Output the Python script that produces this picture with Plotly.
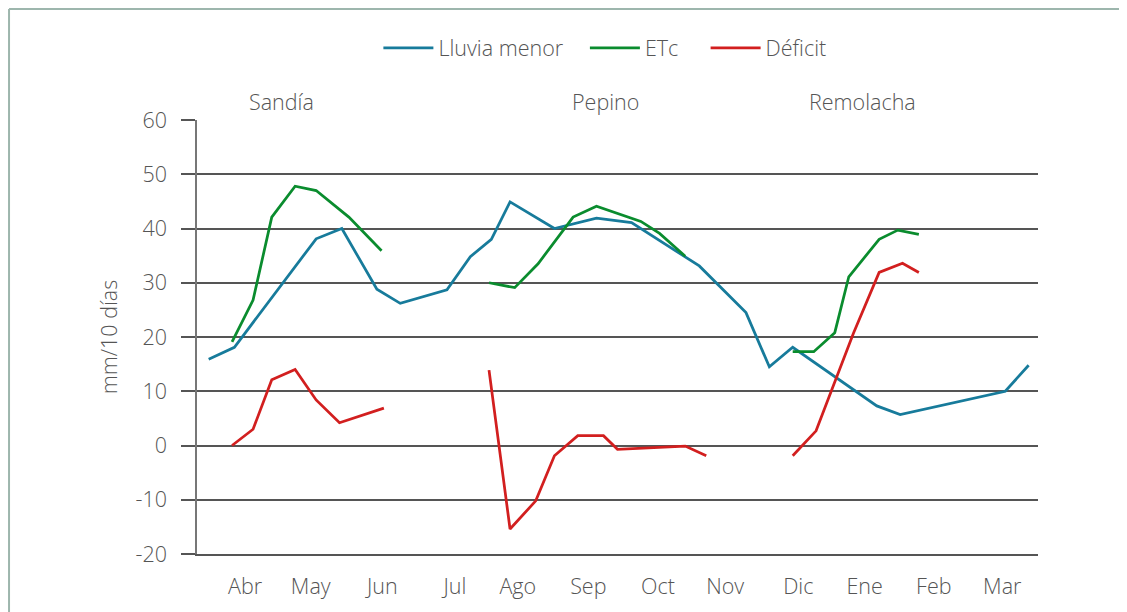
import plotly.graph_objects as go

# x positions in dekads (10-day periods) from start of April; None = gap between crops
x_lluvia = [0.0, 1.1, 4.6, 5.7, 7.2, 8.2, 10.2, 11.2, 12.1, 12.9, 14.8, 16.6, 18.1,
            21.0, 23.0, 24.0, 25.0, 28.6, 29.6, 34.1, 35.1]
lluvia = [15.9, 18.1, 38.1, 40.0, 28.8, 26.2, 28.7, 34.8, 38.0, 44.9, 40.0, 41.9, 41.1,
          33.1, 24.5, 14.5, 18.1, 7.3, 5.7, 10.0, 14.8]

x_etc = [1.0, 1.9, 2.7, 3.7, 4.6, 6.0, 7.4, None,
         12.0, 13.1, 14.1, 15.6, 16.6, 18.5, 19.3, 20.4, None,
         25.0, 25.9, 26.8, 27.4, 28.7, 29.5, 30.4]
etc = [19.1, 26.8, 42.1, 47.8, 47.0, 42.1, 35.9, None,
       30.0, 29.1, 33.5, 42.1, 44.1, 41.3, 39.1, 34.9, None,
       17.3, 17.3, 20.8, 31.1, 38.0, 39.7, 38.9]

x_deficit = [1.0, 1.9, 2.7, 3.7, 4.6, 5.6, 7.5, None,
             12.0, 12.9, 14.0, 14.8, 15.8, 16.9, 17.5, 20.4, 21.3, None,
             25.0, 26.0, 27.6, 28.7, 29.7, 30.4]
deficit = [0.0, 3.0, 12.1, 14.0, 8.4, 4.2, 6.9, None,
           13.9, -15.4, -10.2, -1.9, 1.8, 1.8, -0.7, -0.1, -1.9, None,
           -1.9, 2.7, 20.7, 31.9, 33.6, 31.9]

month_pos = [1.56, 4.37, 7.43, 10.54, 13.23, 16.25, 19.23, 22.11, 25.24, 28.08, 31.04, 33.97]
month_labels = ["Abr", "May", "Jun", "Jul", "Ago", "Sep", "Oct", "Nov", "Dic", "Ene", "Feb", "Mar"]

y_ticks = [-20, -10, 0, 10, 20, 30, 40, 50, 60]
y_labels = ["-20", "-10", "0", "10", "20", "30", "40", "50", "60"]

crop_names = ["Sandía", "Pepino", "Remolacha"]
crop_pos = [3.1, 17.0, 28.0]

FONT = "Open Sans"
TXT = "#555555"
FS = 21.5


def f(size=FS):
    return dict(family=FONT, size=size, color=TXT, weight=300)


NB = "\u00a0"

fig = go.Figure()
fig.add_trace(go.Scatter(x=x_lluvia, y=lluvia, mode="lines", name="Lluvia menor" + NB * 3,
                         line=dict(color="#177b9b", width=2.75)))
fig.add_trace(go.Scatter(x=x_etc, y=etc, mode="lines", name="ETc" + NB * 4,
                         line=dict(color="#0a8c2e", width=2.75), connectgaps=False))
fig.add_trace(go.Scatter(x=x_deficit, y=deficit, mode="lines", name="Déficit",
                         line=dict(color="#d21f1f", width=2.75), connectgaps=False))

for name, pos in zip(crop_names, crop_pos):
    fig.add_annotation(x=pos, xref="x", y=1.042, yref="paper", text=name,
                       showarrow=False, font=f(),
                       xanchor="center", yanchor="middle")

# outer frame (top and left edges)
fig.add_shape(type="line", xref="paper", yref="paper", x0=-0.2235, x1=1.2, y0=1.2558, y1=1.2558,
              line=dict(color="#9db6ad", width=2))
fig.add_shape(type="line", xref="paper", yref="paper", x0=-0.2235, x1=-0.2235, y0=1.2558, y1=-0.3,
              line=dict(color="#9db6ad", width=2))

fig.update_layout(
    width=1119, height=604,
    margin=dict(l=189, r=89, t=112, b=58),
    paper_bgcolor="white", plot_bgcolor="white",
    font=f(),
    showlegend=True,
    legend=dict(orientation="h", x=0.485, xanchor="center", y=1.166, yanchor="middle",
                font=f(), itemwidth=50, bgcolor="rgba(0,0,0,0)"),
    xaxis=dict(range=[-0.5, 35.5], tickvals=month_pos, ticktext=month_labels,
               showgrid=False, zeroline=False, ticks="", showline=True,
               linecolor="#555555", linewidth=2, ticklabelstandoff=12,
               tickfont=f()),
    yaxis=dict(range=[-20, 60], tickvals=y_ticks, ticktext=y_labels, showgrid=True,
               gridcolor="#555555", gridwidth=2, zeroline=False, ticks="outside",
               ticklen=14, tickwidth=2, tickcolor="#555555", showline=True,
               linecolor="#777777", linewidth=1.5, ticklabelstandoff=10,
               tickfont=f(),
               title=dict(text="mm/10 días", standoff=12, font=f())),
)

fig.write_html("out.html")
